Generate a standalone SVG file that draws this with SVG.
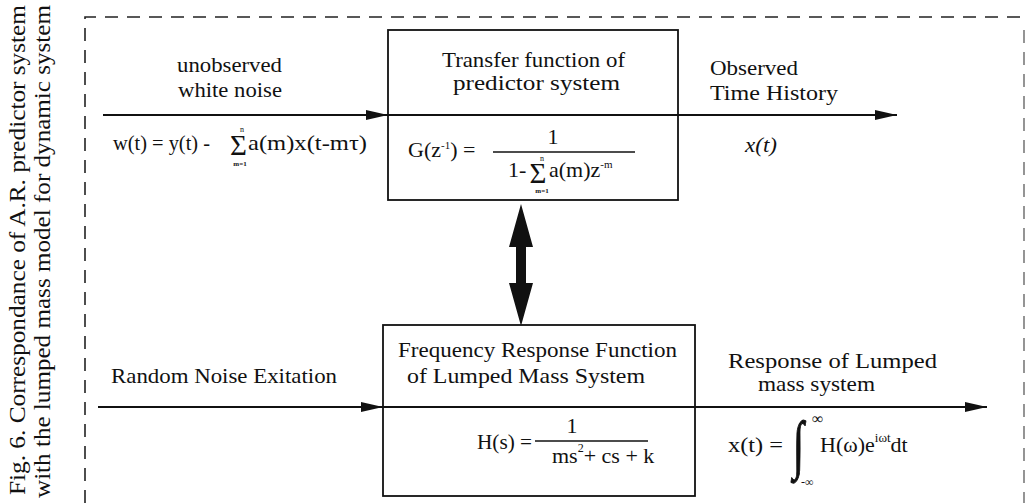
<svg xmlns="http://www.w3.org/2000/svg" width="1026" height="503" viewBox="0 0 1026 503">
<defs>
<style>
.t{font-family:"Liberation Serif","Times New Roman",serif;font-size:22px;fill:#111}
.s{font-family:"Liberation Serif","Times New Roman",serif;fill:#111}
.box{fill:none;stroke:#111;stroke-width:1.8}
.ln{fill:none;stroke:#111;stroke-width:2}
.dash{fill:none;stroke:#222;stroke-width:1.6;stroke-dasharray:13 9}
.frac{stroke:#111;stroke-width:1.3}
</style>
<marker id="ah" viewBox="0 0 22 10" refX="22" refY="5" markerWidth="22" markerHeight="10" markerUnits="userSpaceOnUse" orient="auto">
<path d="M0,0 L22,5 L0,10 Z" fill="#111"/>
</marker>
</defs>
<rect width="1026" height="503" fill="#fff"/>

<g id="caption">
<text class="s" font-size="24" transform="translate(25,495) rotate(-90)" textLength="490" lengthAdjust="spacingAndGlyphs">Fig. 6.  Correspondance of A.R. predictor system</text>
<text class="s" font-size="24" transform="translate(50,498) rotate(-90)" textLength="493" lengthAdjust="spacingAndGlyphs">with the lumped mass model for dynamic system</text>
</g>

<g id="border">
<path class="dash" d="M85,503 V17 H1026"/>
<path class="dash" d="M1024,30 V503" stroke-opacity="0.6"/>
</g>

<g id="connectors">
<path class="ln" d="M103,115 H388" marker-end="url(#ah)"/>
<path class="ln" d="M678,115 H897" marker-end="url(#ah)"/>
<path class="ln" d="M98,407 H383" marker-end="url(#ah)"/>
<path class="ln" d="M695,407 H987" marker-end="url(#ah)"/>
<path d="M521,204 L533,247 L526,247 L526,283 L533,283 L521,326 L509,283 L516,283 L516,247 L509,247 Z" fill="#111"/>
</g>

<g id="predictor-box">
<rect class="box" x="388" y="30" width="290" height="170"/>
<line class="box" x1="388" y1="115" x2="678" y2="115"/>
<text class="t" x="442" y="67" textLength="183" lengthAdjust="spacingAndGlyphs">Transfer function of</text>
<text class="t" x="453" y="90" textLength="167" lengthAdjust="spacingAndGlyphs">predictor  system</text>
<text class="t" x="408" y="157">G(z<tspan dy="-8" font-size="11">-1</tspan><tspan dy="8">) =</tspan></text>
<line class="frac" x1="493" y1="152" x2="635" y2="152"/>
<text class="t" x="553" y="144" text-anchor="middle">1</text>
<text class="t" x="508" y="177">1-</text>
<text class="s" font-size="29" x="538" y="183" text-anchor="middle">Σ</text>
<text class="s" font-size="8" x="542" y="161" text-anchor="middle">n</text>
<text class="s" font-size="7" x="542" y="193" text-anchor="middle" font-weight="bold">m=1</text>
<text class="t" x="549" y="177">a(m)z<tspan dy="-9" font-size="11">-m</tspan></text>
</g>

<g id="lumped-box">
<rect class="box" x="383" y="325" width="312" height="171"/>
<line class="box" x1="383" y1="407" x2="695" y2="407"/>
<text class="t" x="398" y="357" textLength="279" lengthAdjust="spacingAndGlyphs">Frequency Response Function</text>
<text class="t" x="407" y="383" textLength="238" lengthAdjust="spacingAndGlyphs">of  Lumped Mass System</text>
<text class="t" x="477" y="449" textLength="55" lengthAdjust="spacingAndGlyphs">H(s) =</text>
<line class="frac" x1="535" y1="441" x2="648" y2="441"/>
<text class="t" x="572" y="433" text-anchor="middle">1</text>
<text class="t" x="552" y="463">ms<tspan dy="-11" font-size="12">2</tspan><tspan dy="11">+ cs + k</tspan></text>
</g>

<g id="input-top">
<text class="t" x="177" y="72" textLength="105" lengthAdjust="spacingAndGlyphs">unobserved</text>
<text class="t" x="178" y="97" textLength="104" lengthAdjust="spacingAndGlyphs">white noise</text>
<text class="t" x="113" y="150" textLength="97" lengthAdjust="spacingAndGlyphs">w(t) = y(t) -</text>
<text class="s" font-size="29" x="238.5" y="155" text-anchor="middle">Σ</text>
<text class="s" font-size="8" x="242" y="132" text-anchor="middle">n</text>
<text class="s" font-size="7" x="240" y="166" text-anchor="middle" font-weight="bold">m=1</text>
<text class="t" x="248" y="150" textLength="119" lengthAdjust="spacingAndGlyphs">a(m)x(t-mτ)</text>
</g>

<g id="output-top">
<text class="t" x="710" y="75" textLength="88" lengthAdjust="spacingAndGlyphs">Observed</text>
<text class="t" x="710" y="100" textLength="128" lengthAdjust="spacingAndGlyphs">Time  History</text>
<text class="t" x="745" y="152" font-style="italic" textLength="32" lengthAdjust="spacingAndGlyphs">x(t)</text>
</g>

<g id="input-bottom">
<text class="t" x="111" y="383" textLength="226" lengthAdjust="spacingAndGlyphs">Random Noise Exitation</text>
</g>

<g id="output-bottom">
<text class="t" x="728" y="368" textLength="209" lengthAdjust="spacingAndGlyphs">Response of Lumped</text>
<text class="t" x="758" y="391" textLength="117" lengthAdjust="spacingAndGlyphs">mass system</text>
<text class="t" x="728" y="452" textLength="55" lengthAdjust="spacingAndGlyphs">x(t) =</text>
<text class="s" font-size="40" stroke="#111" stroke-width="0.7" transform="translate(793,466) scale(1,1.6)">∫</text>
<text class="s" font-size="16" x="812" y="424">∞</text>
<text class="s" font-size="12" x="801" y="486">-∞</text>
<text class="t" x="820" y="452">H(ω)e<tspan dy="-10" font-size="13">iωt</tspan><tspan dy="10">dt</tspan></text>
</g>
</svg>
